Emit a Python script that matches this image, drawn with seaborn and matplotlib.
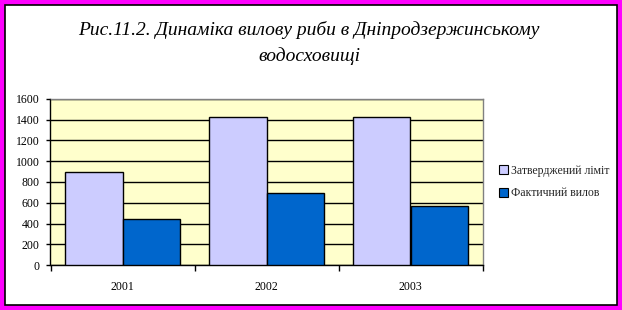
import matplotlib
matplotlib.use("Agg")
import matplotlib.pyplot as plt
import seaborn as sns
import pandas as pd
from matplotlib.patches import Rectangle
from matplotlib.ticker import FixedLocator

years = ["2001", "2002", "2003"]
limit = [900, 1420, 1420]
catch = [440, 690, 565]
series_names = ["Затверджений ліміт", "Фактичний вилов"]
title = "Рис.11.2. Динаміка вилову риби в Дніпродзержинському\nводосховищі"

df = pd.DataFrame({
    "year": years * 2,
    "value": limit + catch,
    "series": [series_names[0]] * 3 + [series_names[1]] * 3,
})

sns.set_theme(style="white")
plt.rcParams["font.family"] = ["Liberation Serif", "DejaVu Serif"]

fig = plt.figure(figsize=(6.22, 3.10), dpi=100)
fig.patch.set_facecolor("#FF00FF")
fig.patches.append(Rectangle((5 / 622, 5 / 310), 612 / 622, 300 / 310,
                             transform=fig.transFigure, facecolor="white",
                             edgecolor="black", linewidth=1.2, zorder=-5))

ax = fig.add_axes([50.5 / 622, 1 - 265.3 / 310, 432 / 622, 166.6 / 310])
ax.set_zorder(2)
ax.set_facecolor("#FFFFCC")

sns.barplot(data=df, x="year", y="value", hue="series", ax=ax,
            palette=["#CCCCFF", "#0066CC"], width=0.8,
            edgecolor="black", linewidth=1.0, saturation=1, zorder=3)

ax.set_ylim(0, 1600)
ax.set_xlim(-0.5, 2.5)
ax.set_yticks(range(0, 1601, 200))
ax.grid(axis="y", color="black", linewidth=1.0, zorder=1)
ax.set_axisbelow(True)
ax.set_xlabel("")
ax.set_ylabel("")

for s in ["top", "right"]:
    ax.spines[s].set_color("#808080")
    ax.spines[s].set_linewidth(1.0)
for s in ["left", "bottom"]:
    ax.spines[s].set_color("black")
    ax.spines[s].set_linewidth(1.0)

ax.tick_params(axis="y", which="major", left=True, length=3, width=1,
               color="black", pad=5, labelsize=8.5, labelcolor="black")
ax.tick_params(axis="x", which="major", bottom=False, length=0, pad=11,
               labelsize=8.5, labelcolor="black")
ax.xaxis.set_minor_locator(FixedLocator([-0.5, 0.5, 1.5, 2.5]))
ax.tick_params(axis="x", which="minor", bottom=True, length=4, width=1,
               color="black")

ax.get_legend().remove()
handles = [Rectangle((0, 0), 1, 1, facecolor=c, edgecolor="black", linewidth=0.8)
           for c in ["#CCCCFF", "#0066CC"]]
fig.legend(handles, series_names, loc="center left",
           bbox_to_anchor=(494 / 622, 1 - 182 / 310), frameon=False,
           fontsize=8.5, handlelength=0.75, handleheight=0.75,
           handletextpad=0.25, labelspacing=0.9, borderaxespad=0)

fig.text(309 / 622, 1 - 43 / 310, title, ha="center", va="center",
         fontsize=14, style="italic", linespacing=1.55, color="black")

fig.savefig("out.png", dpi=100, facecolor=fig.get_facecolor())
